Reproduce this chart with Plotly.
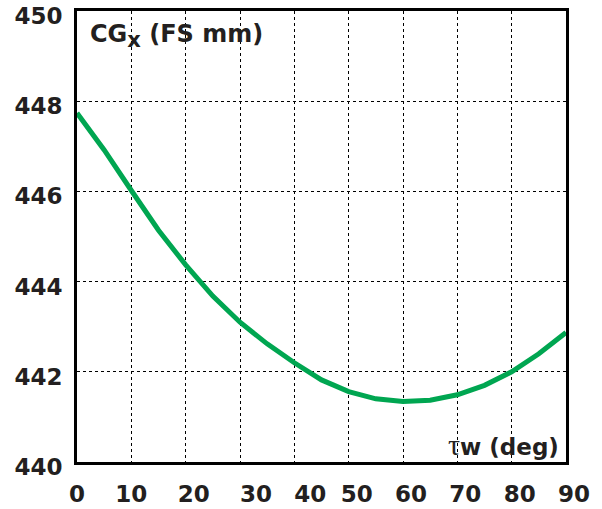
import plotly.graph_objects as go

tau_deg = [0, 5, 10, 15, 20, 25, 30, 35, 40, 45, 50, 55, 60, 65, 70, 75, 80, 85, 90]
cg_x = [447.74, 446.92, 446.02, 445.14, 444.37, 443.68, 443.10, 442.62, 442.20, 441.82,
        441.56, 441.40, 441.34, 441.37, 441.49, 441.70, 442.00, 442.40, 442.87]

x_ticks = [0, 10, 20, 30, 40, 50, 60, 70, 80, 90]
y_ticks = [440, 442, 444, 446, 448, 450]
# label padding with non-breaking spaces (style only): + leading, - trailing
x_label_pad = [-2, -2, 0, 2, 2, 0, 0, 0, 0, 0]


def pad(label, n):
    return "\u00a0" * n + label if n >= 0 else label + "\u00a0" * (-n)


fig = go.Figure()
fig.add_trace(go.Scatter(x=tau_deg, y=cg_x, mode="lines",
                         line=dict(color="#00a651", width=5), showlegend=False))

font = dict(family="DejaVu Sans, Arial, sans-serif", size=23, color="#231f20", weight="bold")
axis_common = dict(showline=True, linewidth=3, linecolor="black", mirror=True,
                   showgrid=True, gridcolor="black", griddash="dot", gridwidth=1,
                   zeroline=False, ticks="", tickfont=font, automargin=False,
                   ticklabeloverflow="allow", tickangle=0)
fig.update_xaxes(range=[0, 90], tickvals=x_ticks,
                 ticktext=[pad(str(v), p) for v, p in zip(x_ticks, x_label_pad)],
                 ticklabelstandoff=9, ticklabelshift=8, **axis_common)
fig.update_yaxes(range=[440, 450], tickvals=y_ticks,
                 ticktext=[str(v) for v in y_ticks], ticklabelstandoff=7,
                 ticklabelshift=5, **axis_common)

title_font = dict(font, size=24)
fig.add_annotation(xref="paper", yref="paper", x=0.022, y=0.985, xanchor="left", yanchor="top",
                   text="CG<sub><span style='font-size:21px'>x</span></sub> (FS mm)",
                   showarrow=False, font=title_font)
fig.add_annotation(xref="paper", yref="paper", x=0.988, y=0.0, xanchor="right", yanchor="bottom",
                   borderpad=0,
                   text="<span style='font-family:Liberation Serif;font-weight:normal;font-size:30px'>τ</span>"
                        "w (deg)",
                   showarrow=False, font=font)

fig.update_layout(width=602, height=509, margin=dict(l=77, r=36, t=11, b=47),
                  plot_bgcolor="white", paper_bgcolor="white")
fig.write_html("out.html")
